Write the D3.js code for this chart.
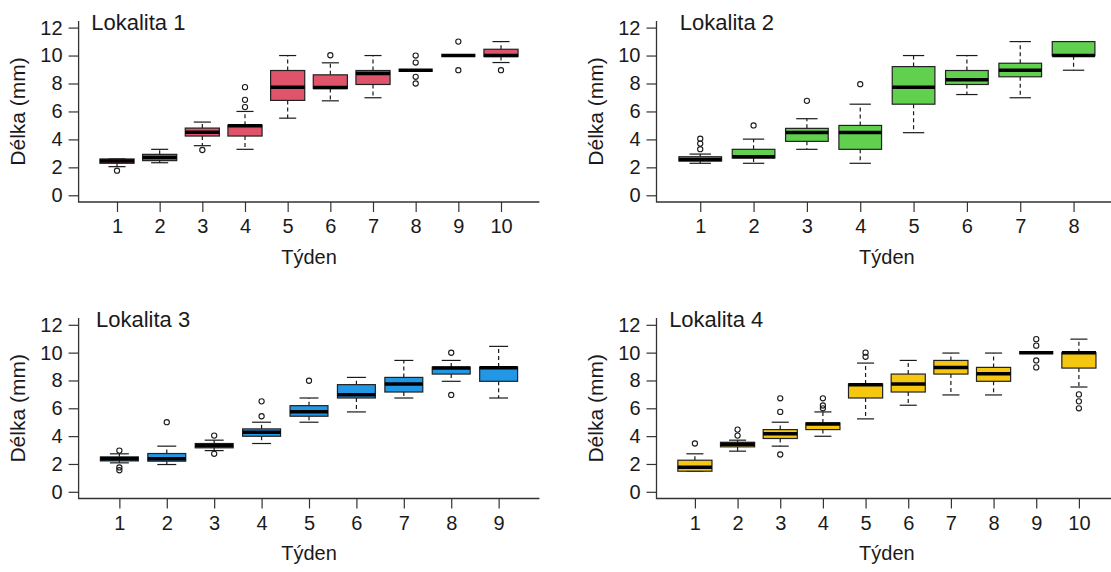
<!DOCTYPE html>
<html>
<head>
<meta charset="utf-8">
<script src="https://cdn.jsdelivr.net/npm/d3@7"></script>
<style>
  html, body { margin: 0; padding: 0; background: #ffffff; }
  svg { display: block; }
  text { font-family: "Liberation Sans", Arial, Helvetica, sans-serif; fill: #1a1a1a; }
</style>
</head>
<body>
<svg id="chart" width="1111" height="572"></svg>
<script>
// ---------------- DATA ----------------
const yTicks = [0, 2, 4, 6, 8, 10, 12];
const titles = ["Lokalita 1", "Lokalita 2", "Lokalita 3", "Lokalita 4"];
const yLabel = "Délka (mm)";
const xLabel = "Týden";

const weeks1 = ["1","2","3","4","5","6","7","8","9","10"];
const lok1Low  = [2.05, 2.33, 3.55, 3.29, 5.52, 6.76, 6.98, 8.95, 10.0, 9.50];
const lok1Q1   = [2.29, 2.48, 4.24, 4.24, 6.79, 7.64, 7.93, 8.95, 10.0, 9.93];
const lok1Med  = [2.45, 2.71, 4.52, 4.98, 7.74, 7.71, 8.71, 8.95, 10.0, 10.0];
const lok1Q3   = [2.60, 2.93, 4.81, 5.02, 8.93, 8.62, 8.93, 8.95, 10.0, 10.45];
const lok1High = [2.60, 3.29, 5.24, 6.00, 10.0, 9.48, 10.0, 8.95, 10.0, 11.0];
const lok1Out  = [[1.76], [], [3.24], [6.31, 6.83, 7.74], [], [10.02], [], [10.0, 9.5, 8.48, 8.0], [11.0, 8.95], [8.95]];

const weeks2 = ["1","2","3","4","5","6","7","8"];
const lok2Low  = [2.29, 2.29, 3.29, 2.29, 4.48, 7.21, 6.98, 8.95];
const lok2Q1   = [2.45, 2.67, 3.86, 3.29, 6.52, 7.93, 8.48, 9.98];
const lok2Med  = [2.57, 2.76, 4.50, 4.50, 7.74, 8.26, 8.95, 10.0];
const lok2Q3   = [2.76, 3.29, 4.79, 5.00, 9.21, 8.93, 9.45, 11.0];
const lok2High = [2.95, 4.02, 5.48, 6.52, 10.0, 10.0, 11.0, 11.0];
const lok2Out  = [[3.3, 3.7, 4.05], [5.0], [6.76], [7.95], [], [], [], []];

const weeks3 = ["1","2","3","4","5","6","7","8","9"];
const lok3Low  = [2.08, 1.96, 2.96, 3.47, 5.00, 5.74, 6.74, 7.94, 6.74];
const lok3Q1   = [2.22, 2.20, 3.16, 3.99, 5.43, 6.74, 7.17, 8.46, 7.94];
const lok3Med  = [2.37, 2.37, 3.32, 4.28, 5.76, 6.98, 7.75, 8.89, 8.92];
const lok3Q3   = [2.51, 2.75, 3.47, 4.52, 6.19, 7.70, 8.22, 8.96, 8.96];
const lok3High = [2.73, 3.28, 3.71, 5.00, 6.74, 8.22, 9.44, 9.44, 10.45];
const lok3Out  = [[2.96, 1.75, 1.55], [5.0], [4.04, 2.73], [5.43, 6.5], [7.98], [], [], [9.99, 6.96], []];

const weeks4 = ["1","2","3","4","5","6","7","8","9","10"];
const lok4Low  = [1.48, 2.92, 3.28, 3.99, 5.24, 6.22, 6.96, 6.96, 10.0, 7.53];
const lok4Q1   = [1.48, 3.23, 3.83, 4.47, 6.74, 7.17, 8.46, 7.94, 10.0, 8.89];
const lok4Med  = [1.77, 3.42, 4.18, 4.88, 7.70, 7.75, 8.94, 8.49, 10.0, 9.99];
const lok4Q3   = [2.27, 3.56, 4.47, 4.95, 7.75, 8.46, 9.44, 8.94, 10.0, 9.99];
const lok4High = [2.73, 3.71, 5.00, 5.74, 9.25, 9.44, 9.97, 9.97, 10.0, 10.97];
const lok4Out  = [[3.47], [4.04, 4.47], [5.74, 6.72, 2.68], [6.0, 6.2, 6.72], [9.7, 10.0], [], [], [], [10.97, 10.5, 9.44, 8.94], [7.0, 6.5, 6.0]];

const colors = ["#DF536B", "#61D04F", "#2297E6", "#F5C710"];

// ---------------- LAYOUT ----------------
const plotW = 460.8;
const colLeft = [78.6, 656.5];
const rowY0 = [195.3, 491.8];   // pixel of y = 0
const rowY12 = [27.6, 324.8];   // pixel of y = 12

const panels = [
  { weeks: weeks1, lo: lok1Low, q1: lok1Q1, med: lok1Med, q3: lok1Q3, hi: lok1High, out: lok1Out, col: 0, row: 0 },
  { weeks: weeks2, lo: lok2Low, q1: lok2Q1, med: lok2Med, q3: lok2Q3, hi: lok2High, out: lok2Out, col: 1, row: 0 },
  { weeks: weeks3, lo: lok3Low, q1: lok3Q1, med: lok3Med, q3: lok3Q3, hi: lok3High, out: lok3Out, col: 0, row: 1 },
  { weeks: weeks4, lo: lok4Low, q1: lok4Q1, med: lok4Med, q3: lok4Q3, hi: lok4High, out: lok4Out, col: 1, row: 1 }
];

const svg = d3.select("#chart");
svg.append("rect").attr("width", 1111).attr("height", 572).attr("fill", "#fff");

panels.forEach((p, pi) => {
  const n = p.weeks.length;
  const left = colLeft[p.col];
  const x = d3.scaleLinear()
    .domain([0.5 - 0.04 * n, n + 0.5 + 0.04 * n])
    .range([left, left + plotW]);
  const y = d3.scaleLinear().domain([0, 12]).range([rowY0[p.row], rowY12[p.row]]);
  const yBottom = y(-0.48), yTop = y(12.48);
  const step = x(2) - x(1);
  const bw = 0.8 * step;
  const capW = 0.5 * bw;
  const g = svg.append("g");
  const axisColor = "#333";

  // Y axis
  const yAxis = d3.axisLeft(y).tickValues(yTicks).tickSize(10).tickPadding(6).tickFormat(d3.format("d"));
  const gy = g.append("g").attr("transform", `translate(${left},0)`).call(yAxis);
  gy.select(".domain").remove();
  gy.selectAll(".tick line").attr("stroke", axisColor).attr("stroke-width", 1.2);
  gy.selectAll(".tick text").attr("font-size", 20).attr("fill", "#1a1a1a")
    .style("font-family", '"Liberation Sans", Arial, sans-serif');

  // X axis
  const xAxis = d3.axisBottom(x).tickValues(d3.range(1, n + 1)).tickSize(10).tickPadding(7)
    .tickFormat((d) => p.weeks[d - 1]);
  const gx = g.append("g").attr("transform", `translate(0,${yBottom})`).call(xAxis);
  gx.select(".domain").remove();
  gx.selectAll(".tick line").attr("stroke", axisColor).attr("stroke-width", 1.2);
  gx.selectAll(".tick text").attr("font-size", 20).attr("fill", "#1a1a1a")
    .style("font-family", '"Liberation Sans", Arial, sans-serif');

  // L-shaped box
  g.append("path")
    .attr("d", `M${left},${yTop}V${yBottom}H${left + plotW}`)
    .attr("fill", "none").attr("stroke", axisColor).attr("stroke-width", 1.3);

  // Boxes
  const idx = d3.range(n);
  const bg = g.append("g");
  idx.forEach((i) => {
    const cx = x(i + 1);
    // whiskers (dashed)
    bg.append("line").attr("x1", cx).attr("x2", cx).attr("y1", y(p.q3[i])).attr("y2", y(p.hi[i]))
      .attr("stroke", "#1a1a1a").attr("stroke-width", 1.2).attr("stroke-dasharray", "4,3");
    bg.append("line").attr("x1", cx).attr("x2", cx).attr("y1", y(p.q1[i])).attr("y2", y(p.lo[i]))
      .attr("stroke", "#1a1a1a").attr("stroke-width", 1.2).attr("stroke-dasharray", "4,3");
    // caps
    bg.append("line").attr("x1", cx - capW / 2).attr("x2", cx + capW / 2)
      .attr("y1", y(p.hi[i])).attr("y2", y(p.hi[i])).attr("stroke", "#1a1a1a").attr("stroke-width", 1.2);
    bg.append("line").attr("x1", cx - capW / 2).attr("x2", cx + capW / 2)
      .attr("y1", y(p.lo[i])).attr("y2", y(p.lo[i])).attr("stroke", "#1a1a1a").attr("stroke-width", 1.2);
    // box
    bg.append("rect").attr("x", cx - bw / 2).attr("width", bw)
      .attr("y", y(p.q3[i])).attr("height", Math.max(0, y(p.q1[i]) - y(p.q3[i])))
      .attr("fill", colors[pi]).attr("stroke", "#222").attr("stroke-width", 1.2);
    // median
    bg.append("line").attr("x1", cx - bw / 2).attr("x2", cx + bw / 2)
      .attr("y1", y(p.med[i])).attr("y2", y(p.med[i]))
      .attr("stroke", "#000").attr("stroke-width", 3.5);
    // outliers
    p.out[i].forEach((v) => {
      bg.append("circle").attr("cx", cx).attr("cy", y(v)).attr("r", 2.6)
        .attr("fill", "none").attr("stroke", "#1a1a1a").attr("stroke-width", 1.1);
    });
  });

  // Title
  g.append("text").attr("x", x(1.5)).attr("y", y(12.4)).attr("dy", "0.35em")
    .attr("text-anchor", "middle").attr("font-size", 22).text(titles[pi]);

  // Y label
  const cy = (yTop + yBottom) / 2;
  g.append("text").attr("transform", `translate(${left - 61},${cy}) rotate(-90)`)
    .attr("text-anchor", "middle").attr("dy", "0.35em").attr("font-size", 21).text(yLabel);

  // X label
  g.append("text").attr("x", left + plotW / 2).attr("y", yBottom + 62)
    .attr("text-anchor", "middle").attr("font-size", 20).text(xLabel);
});
</script>
</body>
</html>
